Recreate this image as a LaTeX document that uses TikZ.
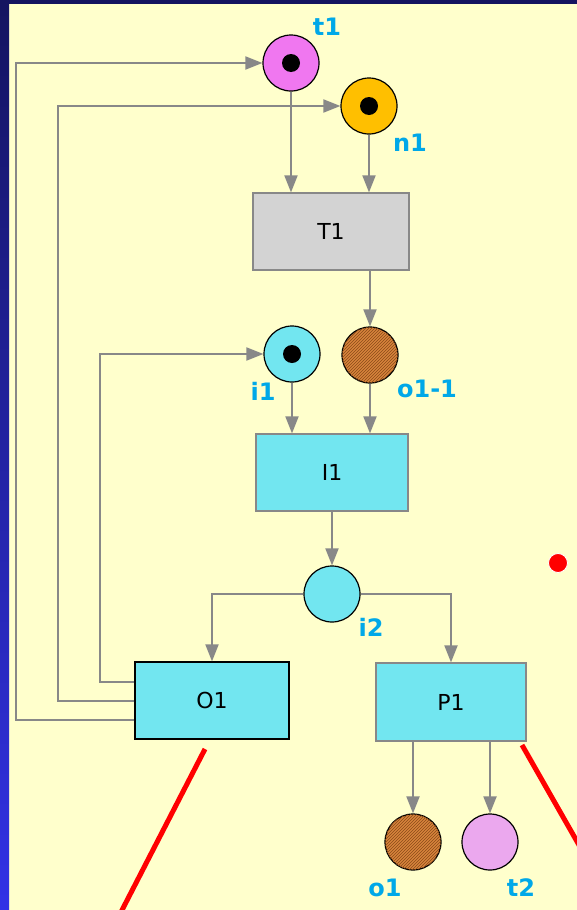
\documentclass[tikz,border=0pt]{standalone}
\usepackage{fontspec}
\setmainfont{DejaVu Sans}
\usetikzlibrary{arrows.meta,patterns,calc}
\definecolor{bgy}{HTML}{FFFFCC}
\definecolor{navy}{HTML}{141460}
\definecolor{bluebot}{HTML}{3232E6}
\definecolor{lblc}{HTML}{00A8E8}
\definecolor{tpink}{HTML}{F077F0}
\definecolor{norange}{HTML}{FFBF00}
\definecolor{cyanf}{HTML}{72E6F0}
\definecolor{grayf}{HTML}{D3D3D3}
\definecolor{brownf}{HTML}{D8843C}
\definecolor{brownl}{HTML}{8A4A18}
\definecolor{lpink}{HTML}{EBA8EE}
\definecolor{linec}{HTML}{888888}
\tikzset{
  place/.style={circle,draw=black,line width=1.2pt,minimum size=56pt,inner sep=0pt},
  hatched/.style={place,fill=brownf,postaction={pattern=north east lines,pattern color=brownl}},
  trans/.style={rectangle,draw=linec,line width=1.2pt,minimum width=155pt,minimum height=77pt,inner sep=0pt,font=\fontsize{22}{24}\selectfont},
  lbl/.style={text=lblc,font=\bfseries\fontsize{24}{26}\selectfont,inner sep=0pt},
  arc/.style={draw=linec,line width=2pt,-{Triangle[length=17pt,width=13pt]}},
  redline/.style={draw=red,line width=5pt},
}
\begin{document}
\begin{tikzpicture}[x=1pt,y=-1pt]
\useasboundingbox (0,0) rectangle (577,910);
\fill[bgy] (0,0) rectangle (577,910);
\shade[top color=navy,bottom color=bluebot] (0,0) rectangle (9,910);
\fill[navy] (0,0) rectangle (577,4);
% places
\node[place,fill=tpink] (t1) at (291,63) {};
\node[place,fill=norange] (n1) at (369,106) {};
\node[place,fill=cyanf] (i1) at (292,354) {};
\node[hatched] (o11) at (370,355) {};
\node[place,fill=cyanf] (i2) at (332,594) {};
\node[hatched] (o1) at (413,842) {};
\node[place,fill=lpink] (t2) at (490,842) {};
% tokens
\fill[black] (t1) circle (9);
\fill[black] (n1) circle (9);
\fill[black] (i1) circle (9);
% transitions
\node[trans,fill=grayf,minimum width=156pt] (T1) at (331,231.5) {T1};
\node[trans,fill=cyanf,minimum width=152pt] (I1) at (332,472.5) {I1};
\node[trans,fill=cyanf,draw=black,minimum width=154pt] (O1) at (212,700.5) {O1};
\node[trans,fill=cyanf,minimum width=150pt,minimum height=78pt] (P1) at (451,702) {P1};
% labels
\node[lbl] (lt1) at (327,27) {t1};
\node[lbl] (ln1) at (410,143) {n1};
\node[lbl] (li1) at (263,391) {i1};
\node[lbl] (lo11) at (427,389) {o1-1};
\node[lbl] (li2) at (371,627) {i2};
\node[lbl] (lo1) at (385,888) {o1};
\node[lbl] (lt2) at (521,888) {t2};
% arcs
\draw[arc] (t1.south) -- (t1.south |- T1.north);
\draw[arc] (n1.south) -- (n1.south |- T1.north);
\draw[arc] (T1.south -| o11.north) -- (o11.north);
\draw[arc] (i1.south) -- (i1.south |- I1.north);
\draw[arc] (o11.south) -- (o11.south |- I1.north);
\draw[arc] (I1.south -| i2.north) -- (i2.north);
\draw[arc] (i2.west) -| (O1.north);
\draw[arc] (i2.east) -| (P1.north);
\draw[arc] (P1.south -| o1.north) -- (o1.north);
\draw[arc] (P1.south -| t2.north) -- (t2.north);
\draw[arc] ([yshift=19pt]O1.west) -- ++(-34,0) |- (i1.west);
\draw[arc] (O1.west) -- ++(-76,0) |- (n1.west);
\draw[arc] ([yshift=-19pt]O1.west) -- ++(-118,0) |- (t1.west);
% red marks
\coordinate (ra) at (205,749);
\coordinate (rb) at (120,914);
\coordinate (rc) at (522,745);
\coordinate (rd) at (583,852);
\draw[redline] (ra) -- (rb);
\draw[redline] (rc) -- (rd);
\node[circle,fill=red,draw=white,line width=0.8pt,minimum size=19pt,inner sep=0pt] (dot) at (558,563) {};
\end{tikzpicture}
\end{document}
